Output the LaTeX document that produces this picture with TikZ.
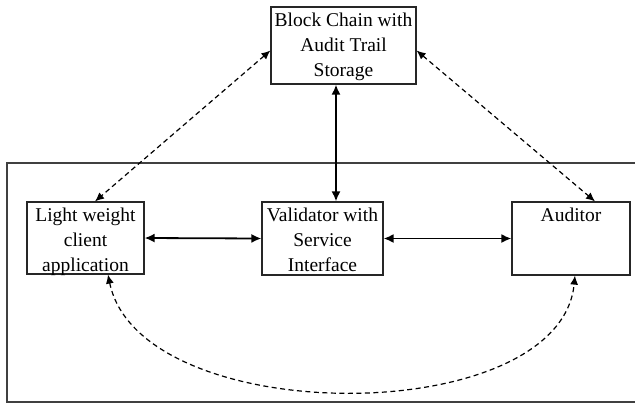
\documentclass[tikz,border=0pt]{standalone}
\usepackage{fontspec}
\setmainfont{Liberation Serif}
\usetikzlibrary{arrows.meta}
\begin{document}
\begin{tikzpicture}[x=1pt,y=-1pt,
  box/.style={draw=black!85, line width=1.2pt, rectangle, inner sep=0pt},
  lbl/.style={anchor=north, inner sep=0pt, align=center, font=\fontsize{19.5}{25}\selectfont},
  solidarrow/.style={line width=1.8pt, {Latex[length=10pt,width=9pt]}-{Latex[length=10pt,width=9pt]}},
  dasharrow/.style={line width=1.2pt, dash pattern=on 5pt off 3.5pt, {Latex[length=9pt,width=8pt]}-{Latex[length=9pt,width=8pt]}}]
\useasboundingbox (0,0) rectangle (635,405);
\fill[white] (0,0) rectangle (635,405);
% outer frame (open on the right)
\draw[draw=black!75, line width=1.5pt] (637,163) -- (7,163) -- (7,402) -- (637,402);
% boxes
\node[box, minimum width=145pt, minimum height=77pt] (bc) at (343.5,45.5) {};
\node[box, minimum width=117pt, minimum height=72pt] (lw) at (85.5,238) {};
\node[box, minimum width=121pt, minimum height=73pt] (va) at (322.5,238.5) {};
\node[box, minimum width=118pt, minimum height=73pt] (au) at (571,238.5) {};
% labels
\node[lbl] (bct) at ([yshift=-6.7pt]bc.north) {Block Chain with\\Audit Trail\\Storage};
\node[lbl] (lwt) at ([yshift=-6.7pt]lw.north) {Light weight\\client\\application};
\node[lbl] (vat) at ([yshift=-6.7pt]va.north) {Validator with\\Service\\Interface};
\node[lbl] (aut) at ([yshift=-6.7pt]au.north) {Auditor};
% solid connectors
\draw[solidarrow] (lw.east) -- (va.west);
\draw[solidarrow] (va.east) -- (au.west);
\draw[solidarrow] ([xshift=-7.5pt]bc.south) -- ([xshift=-7.5pt]bc.south |- va.north);
% dashed connectors
\coordinate (bcl) at ([yshift=-5pt]bc.west);
\coordinate (bcr) at ([yshift=-5pt]bc.east);
\coordinate (lwn) at ([xshift=9.5pt]lw.north);
\coordinate (aun) at ([xshift=24pt]au.north);
\coordinate (lws) at ([xshift=22.5pt]lw.south);
\coordinate (aus) at ([xshift=4pt]au.south);
\draw[dasharrow] (bcl) -- (lwn);
\draw[dasharrow] (bcr) -- (aun);
\draw[dasharrow] (lws) .. controls (140,430) and (560,430) .. (aus);
\end{tikzpicture}
\end{document}
